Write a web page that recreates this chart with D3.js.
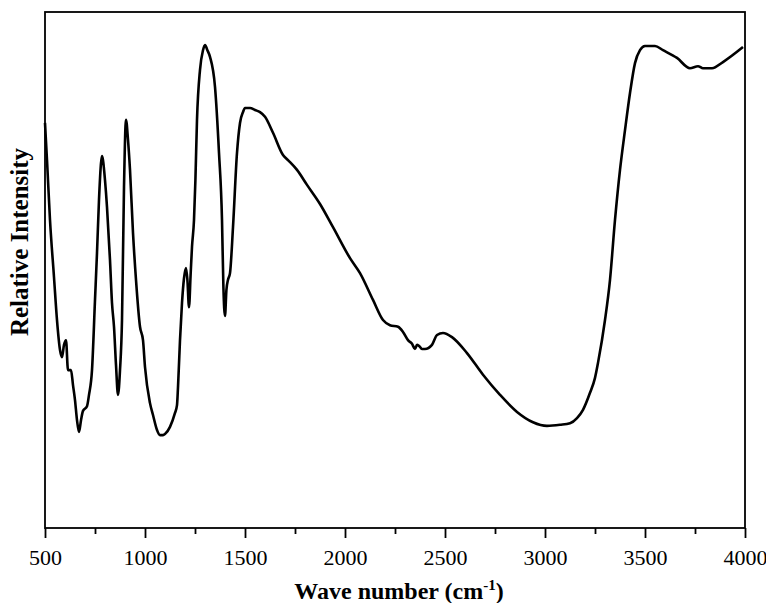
<!DOCTYPE html>
<html><head><meta charset="utf-8">
<script src="https://cdn.jsdelivr.net/npm/d3@7"></script>
<style>body{margin:0;background:#fff}</style>
</head><body>
<svg id="c" width="766" height="603"></svg>
<script>
const waveNumber = [500,510,525,545,560,575,585,595,605,615,630,640,650,660,670,680,690,710,720,735,750,760,770,780,785,790,800,810,825,835,845,855,865,875,885,895,905,915,925,940,955,975,990,1000,1025,1040,1060,1075,1090,1100,1125,1150,1160,1165,1175,1185,1195,1205,1212,1220,1228,1235,1245,1252,1260,1275,1290,1300,1312,1325,1350,1370,1385,1392,1400,1407,1415,1425,1440,1460,1475,1490,1500,1525,1550,1575,1600,1640,1690,1715,1760,1810,1875,1940,2025,2075,2140,2190,2225,2265,2290,2315,2335,2350,2360,2370,2385,2400,2435,2460,2490,2535,2610,2690,2775,2860,2940,3010,3075,3125,3160,3190,3225,3250,3265,3300,3325,3350,3375,3400,3425,3450,3475,3500,3550,3590,3660,3725,3765,3790,3835,3890,3990];
const intensity = [78.5,71.3,59.7,48.6,40.3,34.5,33.1,35.5,36.4,30.6,30.6,27.7,24.8,20.9,18.6,20.9,22.7,23.6,25.8,30.6,44.2,53.3,63.6,70.7,72.1,71.3,67.4,62.2,51.9,43.6,39.0,31.6,25.8,30.6,40.3,66.1,79.1,75.2,69.4,57.2,48.1,39.0,36.4,31.2,24.2,21.9,19.0,18.0,18.0,18.2,19.6,22.3,23.8,27.3,36.4,43.6,48.4,50.4,48.1,42.8,49.0,54.5,59.7,67.4,79.1,88.8,92.6,93.6,92.6,91.3,85.5,72.7,59.7,46.7,41.1,46.1,48.1,49.4,58.3,72.7,78.5,80.6,81.4,81.4,81.0,80.6,79.7,76.6,72.3,71.3,69.4,66.5,62.8,58.3,52.3,49.4,44.2,40.3,39.3,39.0,38.0,36.4,35.7,34.7,35.5,35.3,34.7,34.7,35.5,37.4,37.8,37.0,33.9,29.7,25.8,22.5,20.5,19.8,20.0,20.3,21.3,22.9,26.2,29.1,32.0,40.3,48.1,59.7,69.4,77.1,84.3,90.1,92.6,93.4,93.4,92.6,91.1,89.1,89.5,89.1,89.1,90.3,93.2];
const majorTicks = [500,1000,1500,2000,2500,3000,3500,4000];
const minorTicks = [750,1250,1750,2250,2750,3250,3750];
const xTitle = "Wave number (cm";
const yTitle = "Relative Intensity";

const svg = d3.select("#c");
const L = 45, R = 745, T = 12, B = 528;
const x = d3.scaleLinear().domain([500,4000]).range([L,R]);
const y = d3.scaleLinear().domain([0,100]).range([B,T]);
const font = "'Liberation Serif','Times New Roman',serif";

const data = waveNumber.map((w,i)=>({w, v:intensity[i]}));
svg.append("path").datum(data)
  .attr("fill","none").attr("stroke","#000").attr("stroke-width",2.6)
  .attr("stroke-linejoin","round")
  .attr("d", d3.line().x(d=>x(d.w)).y(d=>y(d.v)).curve(d3.curveMonotoneX));

// frame
svg.append("rect").attr("x",L).attr("y",T).attr("width",R-L).attr("height",B-T)
  .attr("fill","none").attr("stroke","#000").attr("stroke-width",1.8);

const gx = svg.append("g").attr("transform",`translate(0,${B})`)
  .call(d3.axisBottom(x).tickValues(majorTicks).tickSize(10).tickPadding(11).tickFormat(d3.format("d")));
gx.select(".domain").remove();
gx.selectAll("line").attr("stroke-width",1.8);
gx.selectAll("text").attr("font-family",font).attr("font-size",22).attr("fill","#000");

const gm = svg.append("g").attr("transform",`translate(0,${B})`)
  .call(d3.axisBottom(x).tickValues(minorTicks).tickSize(6).tickFormat(""));
gm.select(".domain").remove();
gm.selectAll("line").attr("stroke-width",1.8);

const t = svg.append("text").attr("x",399).attr("y",599).attr("text-anchor","middle")
  .attr("font-family",font).attr("font-size",24).attr("font-weight","bold");
t.append("tspan").text(xTitle);
t.append("tspan").attr("dy",-9).attr("font-size",15).text("-1");
t.append("tspan").attr("dy",9).text(")");

svg.append("text").attr("transform","translate(28,242) rotate(-90)")
  .attr("text-anchor","middle").attr("font-family",font).attr("font-size",25)
  .attr("font-weight","bold").text(yTitle);
</script>
</body></html>
